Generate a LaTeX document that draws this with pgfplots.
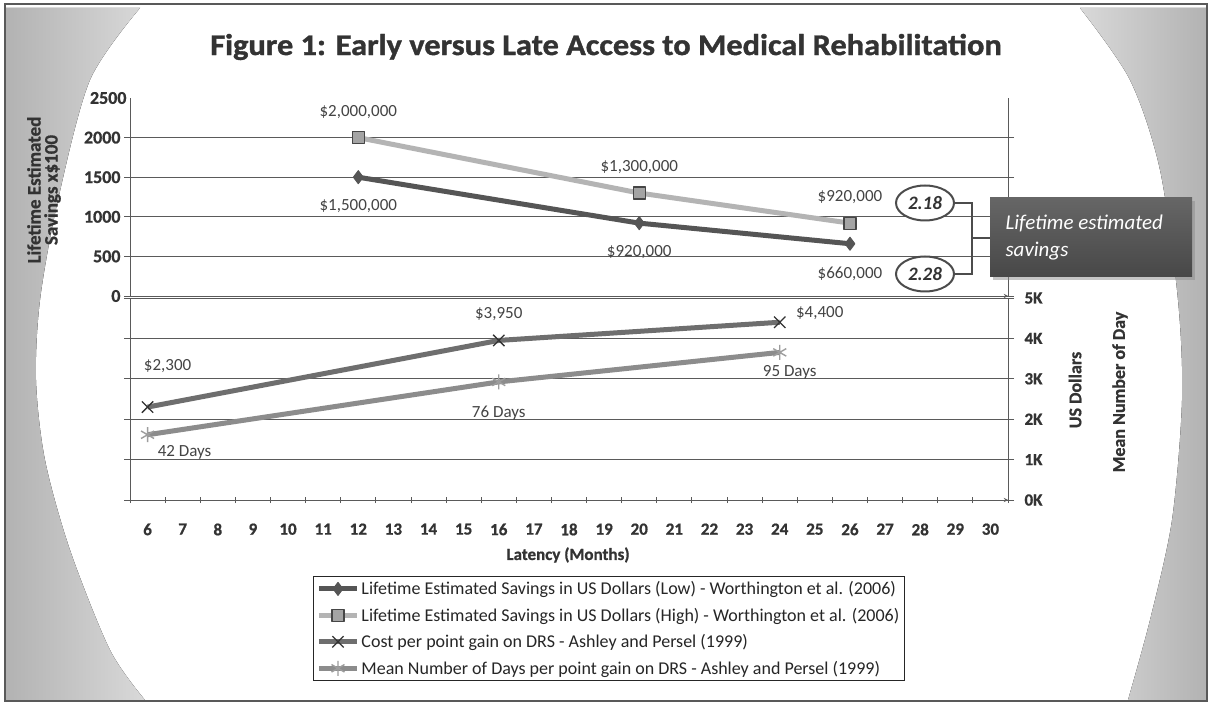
\documentclass[border=0pt]{standalone}
\usepackage{pgfplots}
\pgfplotsset{compat=1.18}
\usepackage{fontspec}
\setmainfont{Carlito}
\newfontfamily\titlefont{Carlito}[FakeStretch=1.08, FakeBold=1.2]
\newfontfamily\heavyfont{Carlito}[FakeBold=0.8]
\usetikzlibrary{shapes.geometric,shadows}

\definecolor{textdark}{HTML}{333333}
\definecolor{labelc}{HTML}{444444}
\definecolor{lowc}{HTML}{555555}
\definecolor{highc}{HTML}{B4B4B4}
\definecolor{highmk}{HTML}{A4A4A4}
\definecolor{costc}{HTML}{6E6E6E}
\definecolor{daysc}{HTML}{8C8C8C}
\definecolor{gridc}{HTML}{5A5A5A}

\pgfplotsset{
  lowstyle/.style={lowc, line width=5pt, line join=round, mark=diamond*,
    mark size=6.5pt, mark options={line width=1pt, fill=lowc, draw=lowc}},
  highstyle/.style={highc, line width=5pt, line join=round, mark=square*,
    mark size=6pt, mark options={line width=1.2pt, fill=highmk, draw=gray!55!black}},
  coststyle/.style={costc, line width=5pt, line join=round, mark=x,
    mark size=8pt, mark options={line width=1.3pt, draw=black!80}},
  daysstyle/.style={daysc, line width=5pt, line join=round, mark=asterisk,
    mark size=7.5pt, mark options={line width=1.4pt, draw=daysc!85!white}},
  panel/.style={scale only axis, width=878pt, xmin=5.5, xmax=30.5,
    separate axis lines, axis line style={gridc, line width=0.9pt, -},
    tick style={gridc, line width=0.9pt}, tick align=outside,
    major tick length=6pt, minor tick length=6pt,
    ymajorgrids, grid style={gridc, line width=0.9pt},
    tick label style={font=\heavyfont\fontsize{17}{17}\selectfont\bfseries, text=textdark},
    /pgf/number format/assume math mode=true,
    /pgf/number format/1000 sep={}, clip=false},
}
\tikzset{dl/.style={font=\fontsize{17}{17}\selectfont, text=labelc, inner sep=1pt}}

\begin{document}
\begin{tikzpicture}[x=1pt,y=1pt]
\useasboundingbox (0,0) rectangle (1212,705);
\fill[white] (0,0) rectangle (1212,705);

% curved grey side panels of the slide background
\fill[left color=black!30, right color=black!15]
  plot[smooth] coordinates {(140,697) (90,625) (58,505) (40,405) (36,325) (45,245) (70,155) (110,55) (145,5)}
  -- (6,5) -- (6,697) -- cycle;
\fill[left color=black!15, right color=black!30]
  plot[smooth] coordinates {(1080,697) (1130,625) (1160,535) (1178,405) (1182,305) (1172,185) (1150,85) (1128,5)}
  -- (1206,5) -- (1206,697) -- cycle;
\draw[black!65, line width=1.5pt] (5,4) rectangle (1207,701);

% title
\node[font=\titlefont\fontsize{30}{30}\selectfont\bfseries, text=textdark] at (606,658)
  {Figure 1: Early versus Late Access to Medical Rehabilitation};

% upper panel: lifetime estimated savings
\begin{axis}[panel, at={(130pt,409pt)}, anchor=south west, height=198pt,
  ymin=0, ymax=2500, ytick={0,500,...,2000},
  extra y ticks={2500}, extra y tick style={grid=none, major tick length=0pt},
  axis x line=bottom, axis y line=box, xtick=\empty,
  ytick pos=both, yticklabel pos=left,
  yticklabel style={font=\heavyfont\fontsize{18}{18}\selectfont\bfseries}]
\addplot[lowstyle] coordinates {(12,1500) (20,920) (26,660)};
\addplot[highstyle] coordinates {(12,2000) (20,1300) (26,920)};
\node[dl, yshift=26pt] at (axis cs:12,2000) {\$2,000,000};
\node[dl, yshift=-29pt] at (axis cs:12,1500) {\$1,500,000};
\node[dl, yshift=26pt] at (axis cs:20,1300) {\$1,300,000};
\node[dl, yshift=-29pt] at (axis cs:20,920) {\$920,000};
\node[dl, yshift=26pt] at (axis cs:26,920) {\$920,000};
\node[dl, yshift=-30pt] at (axis cs:26,660) {\$660,000};
\end{axis}

% lower panel: cost per point gain
\begin{axis}[panel, at={(130pt,205pt)}, anchor=south west, height=202pt,
  ymin=0, ymax=5000, ytick={0,1000,...,5000},
  yticklabels={0K,1K,2K,3K,4K,5K},
  axis x line=bottom, axis y line=box, ytick pos=both, yticklabel pos=right,
  yticklabel style={xshift=7pt},
  xticklabel style={yshift=-17pt},
  xtick={6,...,30}, minor xtick={5.5,6.5,...,30.5},
  major x tick style={draw=none}]
\addplot[coststyle] coordinates {(6,2300) (16,3950) (24,4400)};
\node[dl, xshift=20pt, yshift=41pt] at (axis cs:6,2300) {\$2,300};
\node[dl, yshift=26pt] at (axis cs:16,3950) {\$3,950};
\node[dl, xshift=40pt, yshift=9pt] at (axis cs:24,4400) {\$4,400};
\end{axis}

% lower panel, second scale: mean number of days
\begin{axis}[scale only axis, width=878pt, height=202pt, at={(130pt,205pt)},
  anchor=south west, xmin=5.5, xmax=30.5, ymin=0, ymax=130,
  axis lines=none, xtick=\empty, ytick=\empty, clip=false,
  legend style={at={(axis description cs:0.5455,-0.376)}, anchor=north,
    draw=black!85, line width=1.2pt, fill=white,
    font=\fontsize{18}{18}\selectfont, text=black!85,
    row sep=7.8pt, inner xsep=3pt, inner ysep=3pt},
  legend cell align=left,
  legend image code/.code={\draw[mark repeat=2, mark phase=2]
    plot coordinates {(0pt,0pt) (19pt,0pt) (38pt,0pt)};}]
\addlegendimage{lowstyle}
\addlegendentry{Lifetime Estimated Savings in US Dollars (Low) - Worthington et al. (2006)}
\addlegendimage{highstyle}
\addlegendentry{Lifetime Estimated Savings in US Dollars (High) - Worthington et al. (2006)}
\addlegendimage{coststyle}
\addlegendentry{Cost per point gain on DRS - Ashley and Persel (1999)}
\addplot[daysstyle] coordinates {(6,42) (16,76) (24,95)};
\addlegendentry{Mean Number of Days per point gain on DRS - Ashley and Persel (1999)}
\node[dl, anchor=west, xshift=9pt, yshift=-18pt] at (axis cs:6,42) {42 Days};
\node[dl, yshift=-31pt] at (axis cs:16,76) {76 Days};
\node[dl, xshift=10pt, yshift=-20pt] at (axis cs:24,95) {95 Days};
\end{axis}

% axis titles
\node[rotate=90, align=center, font=\heavyfont\fontsize{19}{17}\selectfont\bfseries, text=textdark]
  at (44,515) {Lifetime Estimated\\Savings x\$100};
\node[font=\heavyfont\fontsize{17}{17}\selectfont\bfseries, text=textdark] at (568,150) {Latency (Months)};
\node[rotate=90, font=\heavyfont\fontsize{18}{18}\selectfont\bfseries, text=textdark] at (1075,315) {US Dollars};
\node[rotate=90, font=\heavyfont\fontsize{18}{18}\selectfont\bfseries, text=textdark] at (1120,313) {Mean Number of Day};

% ratio callouts
\draw[gray!60!black, line width=2pt] (950,502) -- (972,502) -- (972,431) -- (950,431);
\draw[gray!60!black, line width=2pt] (972,467) -- (990,467);
\node[ellipse, draw=gray!60!black, line width=2pt, fill=white, minimum width=58pt,
  minimum height=35pt, inner sep=0pt, font=\fontsize{19}{19}\selectfont\bfseries\itshape,
  text=textdark] at (925,502) {2.18};
\node[ellipse, draw=gray!60!black, line width=2pt, fill=white, minimum width=58pt,
  minimum height=35pt, inner sep=0pt, font=\fontsize{19}{19}\selectfont\bfseries\itshape,
  text=textdark] at (925,431) {2.28};
\fill[black!45, opacity=0.5] (993,425) rectangle (1195,504);
\shade[top color=black!60, bottom color=black!72] (990,428) rectangle (1192,507);
\node[anchor=west, align=left, text=white, font=\fontsize{21}{27}\selectfont\itshape]
  at (1002,467) {Lifetime estimated\\savings};
\end{tikzpicture}
\end{document}
